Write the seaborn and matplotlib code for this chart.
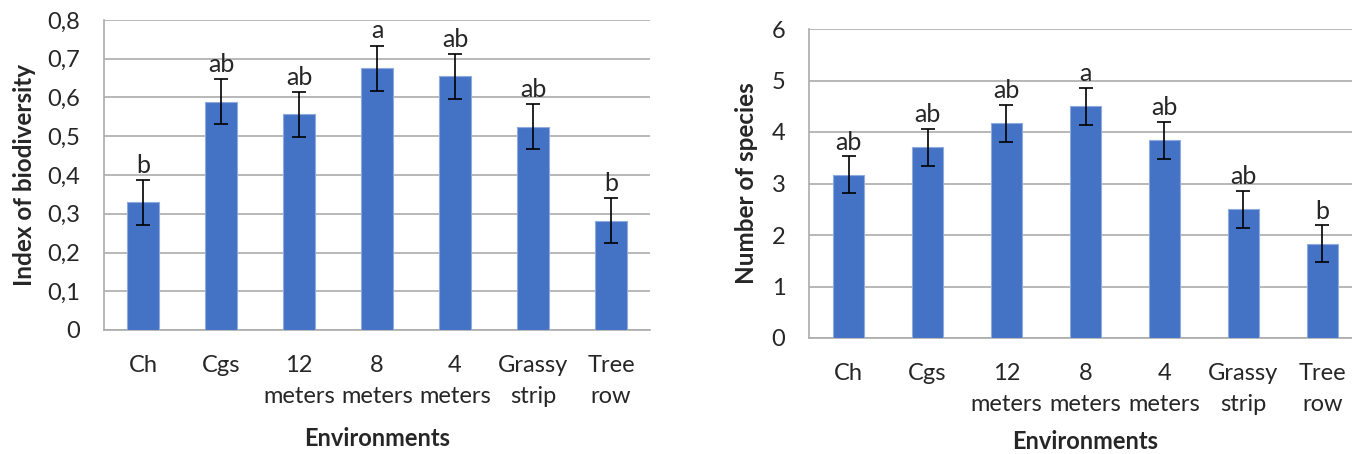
import numpy as np
import pandas as pd
import seaborn as sns
import matplotlib.pyplot as plt
from matplotlib.ticker import FuncFormatter, MultipleLocator

# --- DATA ---
environments = ["Ch", "Cgs", "12\nmeters", "8\nmeters", "4\nmeters", "Grassy\nstrip", "Tree\nrow"]

biodiversity = [0.33, 0.589, 0.557, 0.676, 0.655, 0.524, 0.282]
biodiversity_err = [0.058, 0.058, 0.058, 0.058, 0.058, 0.058, 0.058]
biodiversity_letters = ["b", "ab", "ab", "a", "ab", "ab", "b"]

species = [3.17, 3.70, 4.17, 4.50, 3.84, 2.50, 1.83]
species_err = [0.36, 0.36, 0.36, 0.36, 0.36, 0.36, 0.36]
species_letters = ["ab", "ab", "ab", "a", "ab", "ab", "b"]

# --- STYLE ---
sns.set_style("white")
plt.rcParams["font.family"] = ["Lato", "DejaVu Sans"]

bar_color = "#4472C4"
grid_color = "#ABABAB"

fig = plt.figure(figsize=(13.52, 4.54), dpi=100)
ax1 = fig.add_axes([104 / 1352, 1 - 330 / 454, 546 / 1352, 310 / 454])
ax2 = fig.add_axes([809 / 1352, 1 - 338 / 454, 553 / 1352, 309 / 454])


def draw_panel(ax, vals, errs, letters, ymax, step, ylabel, fmt, letter_pad, label_pad):
    df = pd.DataFrame({"env": environments, "val": vals})
    sns.barplot(data=df, x="env", y="val", color=bar_color, width=0.4,
                edgecolor="#8FAADC", linewidth=0.8, saturation=1, ax=ax, zorder=3)
    x = np.arange(len(vals))
    ax.errorbar(x, vals, yerr=errs, fmt="none", ecolor="black", elinewidth=1.2,
                capsize=5, capthick=1.2, zorder=4)
    for xi, v, e, lab in zip(x, vals, errs, letters):
        ax.text(xi, v + e + letter_pad, lab, ha="center", va="bottom", fontsize=18)

    ax.set_xlim(-0.5, len(vals) - 0.5)
    ax.set_ylim(0, ymax)
    ax.yaxis.set_major_locator(MultipleLocator(step))
    ax.yaxis.set_major_formatter(FuncFormatter(fmt))
    ax.grid(axis="y", color=grid_color, linewidth=1.2, zorder=0)
    ax.set_axisbelow(True)

    for side in ["top", "right"]:
        ax.spines[side].set_visible(False)
    ax.spines["left"].set_color(grid_color)
    ax.spines["bottom"].set_color(grid_color)
    ax.spines["left"].set_linewidth(1.2)
    ax.spines["bottom"].set_linewidth(1.2)

    # tick marks between categories on x, outward on y
    ax.set_xticks(x)
    ax.set_xticklabels(environments, fontsize=17, linespacing=1.6)
    ax.tick_params(axis="x", length=0, pad=18)
    ax.set_xticks(np.arange(-0.5, len(vals), 1), minor=True)
    ax.tick_params(axis="x", which="minor", length=8, width=1.2, color=grid_color, direction="out")
    ax.tick_params(axis="y", length=8, width=1.2, color=grid_color, labelsize=17, pad=9)

    ax.set_ylabel(ylabel, fontsize=17.5, fontweight="bold")
    ax.set_xlabel("Environments", fontsize=17, fontweight="bold", labelpad=label_pad)


draw_panel(ax1, biodiversity, biodiversity_err, biodiversity_letters, 0.8, 0.1,
           "Index of biodiversity", lambda v, p: "0" if v == 0 else f"{v:.1f}".replace(".", ","),
           0.008, 14)
draw_panel(ax2, species, species_err, species_letters, 6, 1,
           "Number of species", lambda v, p: f"{v:.0f}", 0.05, 11)

ax1.yaxis.set_label_coords(-0.125, 0.5)
ax2.yaxis.set_label_coords(-0.093, 0.5)

fig.savefig("out.png", dpi=100)
